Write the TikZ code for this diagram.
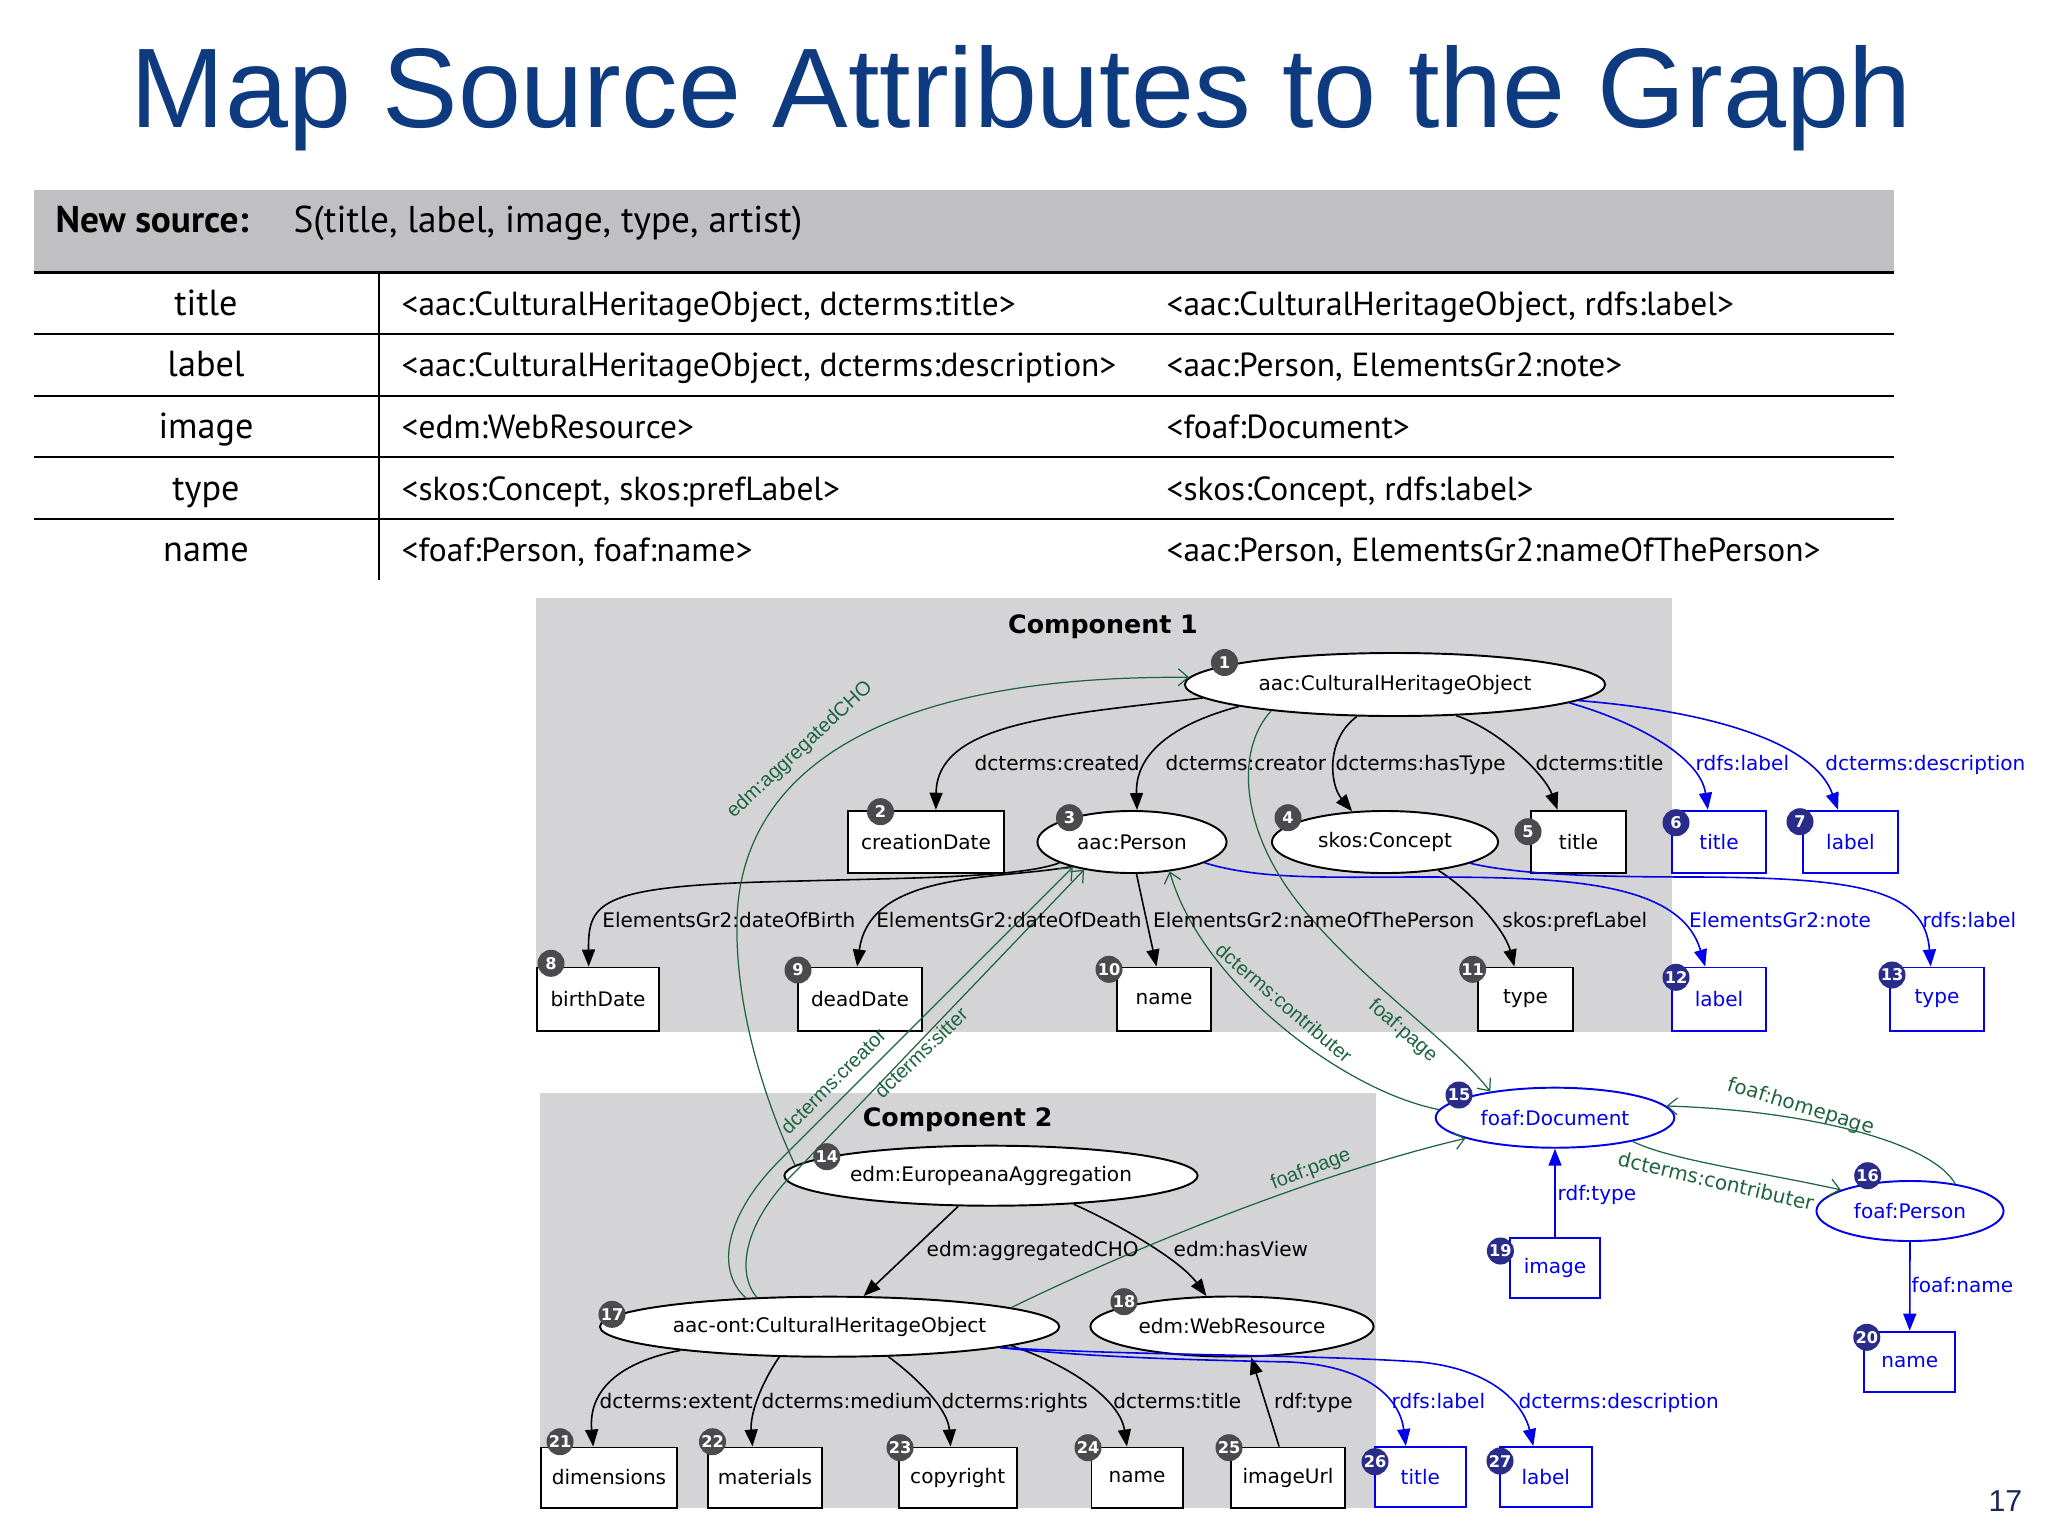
\documentclass[tikz,border=0pt]{standalone}
\usepackage{fontspec}
\setmainfont{Liberation Sans}
\newfontfamily\grfont{DejaVu Sans}
\newfontfamily\tabfont{PT Sans}
\usetikzlibrary{arrows.meta,shapes.geometric}

\definecolor{navy}{RGB}{14,58,128}
\definecolor{pagenum}{RGB}{25,40,90}
\definecolor{headgray}{RGB}{192,192,194}
\definecolor{compgray}{RGB}{212,212,214}
\definecolor{numgray}{RGB}{75,75,77}
\definecolor{numblue}{RGB}{42,44,138}
\definecolor{relblue}{RGB}{0,0,235}
\definecolor{relgreen}{RGB}{30,100,62}

\newcommand{\grsize}{\fontsize{5.7}{6.8}\selectfont}
\newcommand{\tabsize}{\fontsize{9.5}{11}\selectfont}
\newcommand{\keysize}{\fontsize{10.3}{12}\selectfont}
\newcommand{\headsize}{\fontsize{10.6}{12}\selectfont}

\begin{document}
\begin{tikzpicture}[
  x=0.01cm, y=-0.01cm,
  cls/.style={ellipse, draw, fill=white, line width=0.55pt, inner sep=0pt, minimum height=0.6cm, font=\grfont\grsize},
  lit/.style={rectangle, draw, fill=white, line width=0.55pt, inner sep=0pt, minimum height=0.6cm, font=\grfont\grsize},
  bcls/.style={cls, draw=relblue, text=relblue},
  blit/.style={lit, draw=relblue, text=relblue},
  badge/.style={circle, fill=numgray, text=white, inner sep=0pt, minimum size=0.27cm, font=\grfont\bfseries\fontsize{4.6}{5}\selectfont},
  bbadge/.style={badge, fill=numblue},
  rel/.style={line width=0.45pt, -{Triangle[length=1.7mm,width=1.3mm]}},
  brel/.style={rel, draw=relblue},
  grel/.style={line width=0.35pt, draw=relgreen, -{Straight Barb[length=1mm,width=1.7mm]}},
  elab/.style={anchor=base west, inner sep=0pt, font=\grfont\grsize},
  belab/.style={elab, text=relblue},
  glab/.style={inner sep=0pt, text=relgreen, font=\rmfamily\grsize},
  hglab/.style={glab, font=\grfont\grsize},
  comptitle/.style={anchor=base, inner sep=0pt, font=\grfont\bfseries\fontsize{7.2}{8}\selectfont},
  tcell/.style={anchor=base west, inner sep=0pt, font=\tabfont\tabsize},
  rowkey/.style={anchor=base, inner sep=0pt, font=\tabfont\keysize}
]
\useasboundingbox (0,0) rectangle (2048,1536);
\fill[white] (0,0) rectangle (2048,1536);

\node[anchor=base, inner sep=0pt, text=navy, font=\fontsize{32.2}{38}\selectfont] (title) at (1021.5,127) {Map Source Attributes to the Graph};

\fill[headgray] (34,190) rectangle (1894,272.7);
\draw[line width=0.75pt] (34,272.7) -- (1894,272.7);
\draw[line width=0.65pt] (34,334.3) -- (1894,334.3);
\draw[line width=0.65pt] (34,396) -- (1894,396);
\draw[line width=0.65pt] (34,457) -- (1894,457);
\draw[line width=0.65pt] (34,519) -- (1894,519);
\draw[line width=0.6pt] (379,272.7) -- (379,580);

\node[tcell, font=\tabfont\bfseries\headsize] (hd) at (55,232) {New source:};
\node[tcell, font=\tabfont\headsize] (src) at (293,232) {S(title, label, image, type, artist)};
\node[rowkey] (k1) at (206,315) {title};
\node[tcell] (a1) at (401,315) {<aac:CulturalHeritageObject, dcterms:title>};
\node[tcell] (b1) at (1166,315) {<aac:CulturalHeritageObject, rdfs:label>};
\node[rowkey] (k2) at (206,376.7) {label};
\node[tcell] (a2) at (401,376.7) {<aac:CulturalHeritageObject, dcterms:description>};
\node[tcell] (b2) at (1166,376.7) {<aac:Person, ElementsGr2:note>};
\node[rowkey] (k3) at (206,438) {image};
\node[tcell] (a3) at (401,438) {<edm:WebResource>};
\node[tcell] (b3) at (1166,438) {<foaf:Document>};
\node[rowkey] (k4) at (206,500) {type};
\node[tcell] (a4) at (401,500) {<skos:Concept, skos:prefLabel>};
\node[tcell] (b4) at (1166,500) {<skos:Concept, rdfs:label>};
\node[rowkey] (k5) at (206,561.7) {name};
\node[tcell] (a5) at (401,561.7) {<foaf:Person, foaf:name>};
\node[tcell] (b5) at (1166,561.7) {<aac:Person, ElementsGr2:nameOfThePerson>};

\fill[compgray] (535.5,598) rectangle (1672,1031.7);
\fill[compgray] (539.5,1092.7) rectangle (1375.5,1508);
\node[comptitle] (c1) at (1103,633) {Component 1};
\node[comptitle] (c2) at (957.6,1126.7) {Component 2};

\node[cls, minimum width=4.2cm, minimum height=0.63cm] (n1) at (1395,684.5) {aac:CulturalHeritageObject};
\node[lit, minimum width=1.555cm, minimum height=0.626cm] (n2) at (926,842) {creationDate};
\node[cls, minimum width=1.89cm, minimum height=0.62cm] (n3) at (1132,842) {aac:Person};
\node[cls, minimum width=2.26cm, minimum height=0.62cm] (n4) at (1385,842) {skos:Concept};
\node[lit, minimum width=0.95cm, minimum height=0.626cm] (n5) at (1578.5,842) {title};
\node[blit, minimum width=0.94cm, minimum height=0.626cm] (n6) at (1719,842) {title};
\node[blit, minimum width=0.947cm, minimum height=0.626cm] (n7) at (1850.4,842) {label};
\node[lit, minimum width=1.226cm, minimum height=0.63cm] (n8) at (598,999) {birthDate};
\node[lit, minimum width=1.236cm, minimum height=0.63cm] (n9) at (860,999) {deadDate};
\node[lit, minimum width=0.945cm, minimum height=0.63cm] (n10) at (1164,999) {name};
\node[lit, minimum width=0.95cm, minimum height=0.63cm] (n11) at (1525.5,999) {type};
\node[blit, minimum width=0.94cm, minimum height=0.63cm] (n12) at (1719,999) {label};
\node[blit, minimum width=0.946cm, minimum height=0.63cm] (n13) at (1937,999) {type};

\node[cls, minimum width=4.13cm] (n14) at (991,1175.7) {edm:EuropeanaAggregation};
\node[cls, minimum width=4.59cm] (n17) at (829.6,1326.7) {aac-ont:CulturalHeritageObject};
\node[cls, minimum width=2.83cm] (n18) at (1232,1326.5) {edm:WebResource};
\node[lit, minimum width=1.35cm] (n21) at (609,1477.5) {dimensions};
\node[lit, minimum width=1.14cm] (n22) at (765,1477.5) {materials};
\node[lit, minimum width=1.18cm] (n23) at (957.7,1477.5) {copyright};
\node[lit, minimum width=0.91cm] (n24) at (1137,1477.5) {name};
\node[lit, minimum width=1.14cm] (n25) at (1288,1477.5) {imageUrl};
\node[blit, minimum width=0.906cm] (n26) at (1420.3,1477) {title};
\node[blit, minimum width=0.915cm] (n27) at (1545.8,1477) {label};

\node[bcls, minimum width=2.385cm] (n15) at (1555,1117.7) {foaf:Document};
\node[bcls, minimum width=1.87cm] (n16) at (1910,1211) {foaf:Person};
\node[blit, minimum width=0.906cm] (n19) at (1555,1268.3) {image};
\node[blit, minimum width=0.906cm] (n20) at (1909.7,1361.7) {name};

\draw[rel] (n1.184) .. controls (1060,715) and (937,722) .. (n2.73);
\draw[rel] (n1.188) .. controls (1180,722) and (1135,750) .. (n3.81);
\draw[rel] (n1.220) .. controls (1325,740) and (1330,785) .. (n4.137);
\draw[rel] (n1.333) .. controls (1500,730) and (1545,775) .. (n5.123);
\draw[brel] (n1.354) .. controls (1630,720) and (1700,755) .. (n6.109);
\draw[brel] (n1.355) .. controls (1720,712) and (1815,745) .. (n7.111);
\draw[rel] (n3.196) .. controls (1020,878) and (900,878) .. (800,881) .. controls (600,885) and (588,900) .. (n8.106);
\draw[rel] (n3.202) .. controls (1000,880) and (870,870) .. (n9.95);
\draw[rel] (n3.278) -- (n10.103);
\draw[rel] (n4.332) .. controls (1470,890) and (1505,930) .. (n11.109);
\draw[brel] (n3.344) .. controls (1260,880) and (1330,877) .. (1420,877) .. controls (1560,877) and (1680,880) .. (n12.113);
\draw[brel] (n4.346) .. controls (1520,875) and (1600,877) .. (1700,877) .. controls (1860,878) and (1925,890) .. (n13.101);

\draw[rel] (n14.223) -- (n17.42);
\draw[rel] (n14.341) .. controls (1120,1225) and (1180,1260) .. (n18.130);
\draw[rel] (n17.189) .. controls (620,1362) and (588,1390) .. (n21.117);
\draw[rel] (n17.211) .. controls (760,1385) and (750,1415) .. (n22.112);
\draw[rel] (n17.333) .. controls (920,1380) and (948,1410) .. (n23.103);
\draw[rel] (n17.354) .. controls (1070,1365) and (1120,1400) .. (n24.108);
\draw[rel] (n25.106) -- (n18.302);
\draw[brel] (n17.353) .. controls (1100,1358) and (1200,1360) .. (1290,1362) .. controls (1370,1366) and (1400,1400) .. (n26.115);
\draw[brel] (n17.353) .. controls (1150,1356) and (1300,1354) .. (1420,1362) .. controls (1500,1370) and (1525,1410) .. (n27.112);

\draw[brel] (n19.north) -- (n15.south);
\draw[brel] (n16.south) -- (n20.north);

\draw[grel] (n14.177) .. controls (760,1090) and (735,1000) .. (737,920) .. controls (740,790) and (850,675) .. (n1.178);
\draw[grel] (n17.161) .. controls (715,1270) and (725,1215) .. (780,1160) -- (n3.203);
\draw[grel] (n17.158) .. controls (735,1272) and (745,1220) .. (797,1170) -- (n3.210);
\draw[grel] (n1.192) .. controls (1235,750) and (1240,830) .. (1300,905) .. controls (1360,980) and (1450,1040) .. (n15.158);
\draw[grel] (n15.176) .. controls (1340,1090) and (1200,980) .. (n3.322);
\draw[grel] (n17.6) .. controls (1150,1240) and (1330,1170) .. (n15.193);
\draw[grel] (n15.343) .. controls (1670,1160) and (1760,1172) .. (n16.163);
\draw[grel] (n16.31) .. controls (1930,1140) and (1800,1110) .. (n15.6);

\node[elab] (l2) at (974,770) {dcterms:created};
\node[elab] (l3) at (1165,770) {dcterms:creator};
\node[elab] (l4) at (1335,770) {dcterms:hasType};
\node[elab] (l5) at (1535,770) {dcterms:title};
\node[belab] (l6) at (1695,770) {rdfs:label};
\node[belab] (l7) at (1824.7,770) {dcterms:description};
\node[elab] (l8) at (601.7,927) {ElementsGr2:dateOfBirth};
\node[elab] (l9) at (875.6,927) {ElementsGr2:dateOfDeath};
\node[elab] (l10) at (1152.5,927) {ElementsGr2:nameOfThePerson};
\node[elab] (l11) at (1501.7,927) {skos:prefLabel};
\node[belab] (l12) at (1688.4,927) {ElementsGr2:note};
\node[belab] (l13) at (1922,927) {rdfs:label};
\node[elab] (l17) at (926,1256.7) {edm:aggregatedCHO};
\node[elab] (l18) at (1173,1256.7) {edm:hasView};
\node[elab] (l21) at (599,1408) {dcterms:extent};
\node[elab] (l22) at (761,1408) {dcterms:medium};
\node[elab] (l23) at (941,1408) {dcterms:rights};
\node[elab] (l24) at (1112.7,1408) {dcterms:title};
\node[elab] (l25) at (1273.4,1408) {rdf:type};
\node[belab] (l26) at (1391,1408) {rdfs:label};
\node[belab] (l27) at (1518,1408) {dcterms:description};
\node[belab] (l19) at (1557,1200) {rdf:type};
\node[belab] (l20) at (1911,1292.7) {foaf:name};

\node[glab, rotate=43] (g1) at (800,750) {edm:aggregatedCHO};
\node[glab, rotate=45] (g2) at (833,1081) {dcterms:creator};
\node[glab, rotate=44] (g3) at (921,1052.5) {dcterms:sitter};
\node[glab, rotate=-41] (g4) at (1402.5,1031) {foaf:page};
\node[glab, rotate=-40.5] (g5) at (1284,1003) {dcterms:contributer};
\node[glab, rotate=21] (g6) at (1311,1170) {foaf:page};
\node[hglab, rotate=-13] (g7) at (1716,1181) {dcterms:contributer};
\node[hglab, rotate=-17] (g8) at (1801,1107) {foaf:homepage};

\node[badge] (b1) at (1224.5,662.5) {1};
\node[badge] (b2) at (880.5,811.7) {2};
\node[badge] (b3) at (1069.5,817.7) {3};
\node[badge] (b4) at (1288,817.7) {4};
\node[badge] (b5) at (1528,831.7) {5};
\node[bbadge] (b6) at (1676,822.7) {6};
\node[bbadge] (b7) at (1800,821.7) {7};
\node[badge] (b8) at (551,963.3) {8};
\node[badge] (b9) at (798,970) {9};
\node[badge] (b10) at (1109,969.3) {10};
\node[badge] (b11) at (1472.7,969.3) {11};
\node[bbadge] (b12) at (1676,977.3) {12};
\node[bbadge] (b13) at (1892,975) {13};
\node[badge] (b14) at (826.8,1156.7) {14};
\node[bbadge] (b15) at (1459,1095) {15};
\node[bbadge] (b16) at (1867.7,1175.7) {16};
\node[badge] (b17) at (612,1314.3) {17};
\node[badge] (b18) at (1124,1301.7) {18};
\node[bbadge] (b19) at (1500.4,1251) {19};
\node[bbadge] (b20) at (1866.8,1337.3) {20};
\node[badge] (b21) at (560,1441.7) {21};
\node[badge] (b22) at (712.5,1441.7) {22};
\node[badge] (b23) at (900,1447.7) {23};
\node[badge] (b24) at (1088,1447.7) {24};
\node[badge] (b25) at (1229,1447.7) {25};
\node[bbadge] (b26) at (1375,1461.7) {26};
\node[bbadge] (b27) at (1500,1461) {27};

\node[anchor=base east, inner sep=0pt, text=pagenum, font=\fontsize{8.6}{10}\selectfont] (pg) at (2023,1511.7) {17};
\end{tikzpicture}
\end{document}
